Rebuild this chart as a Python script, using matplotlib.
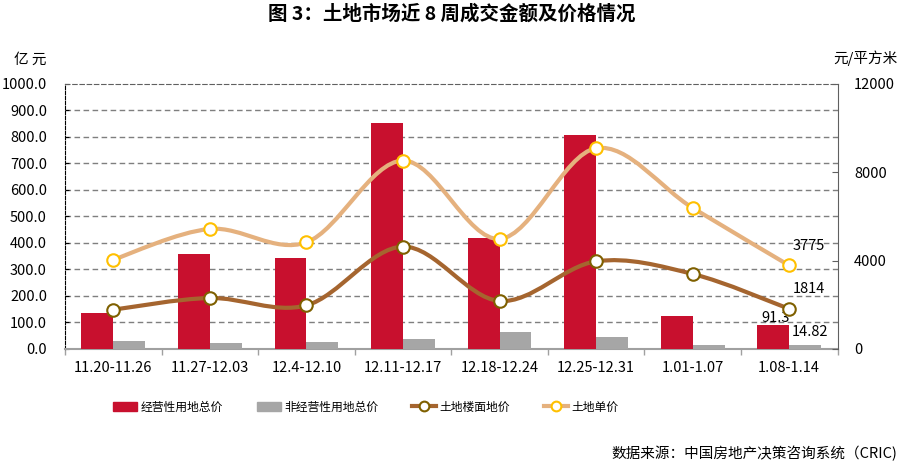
import numpy as np
import matplotlib
matplotlib.use("Agg")
import matplotlib.pyplot as plt
from matplotlib.path import Path
from matplotlib.patches import PathPatch, Patch
from matplotlib.lines import Line2D

plt.rcParams['font.family'] = ['Noto Sans CJK SC', 'DejaVu Sans']

categories = ["11.20-11.26", "11.27-12.03", "12.4-12.10", "12.11-12.17",
              "12.18-12.24", "12.25-12.31", "1.01-1.07", "1.08-1.14"]
op_total = [135, 357, 343, 852, 417, 807, 126, 91.3]
nonop_total = [29, 21, 25, 36, 65, 46, 16, 14.82]
floor_price = [1777, 2306, 1973, 4627, 2171, 3962, 3392, 1814]
unit_price = [4039, 5427, 4822, 8517, 4975, 9074, 6377, 3775]
left_ticks = [0, 100, 200, 300, 400, 500, 600, 700, 800, 900, 1000]
right_ticks = [0, 4000, 8000, 12000]

RED = '#C8102E'
GREY = '#A6A6A6'
BROWN = '#A5652F'
BROWN_EDGE = '#7F6000'
TAN = '#E5B17E'
YELLOW = '#FFC000'


def smooth_path(xs, ys):
    pts = np.column_stack([xs, ys]).astype(float)
    n = len(pts)
    verts = [pts[0]]
    codes = [Path.MOVETO]
    for i in range(n - 1):
        p0 = pts[i - 1] if i > 0 else pts[i]
        p1 = pts[i]
        p2 = pts[i + 1]
        p3 = pts[i + 2] if i + 2 < n else pts[i + 1]
        c1 = p1 + (p2 - p0) / 6.0
        c2 = p2 - (p3 - p1) / 6.0
        verts += [c1, c2, p2]
        codes += [Path.CURVE4] * 3
    return Path(verts, codes)


fig = plt.figure(figsize=(9.05, 4.66), dpi=100)
ax = fig.add_axes([65 / 905, 1 - 349 / 466, (837.5 - 65) / 905, (349 - 83.5) / 466])
ax2 = ax.twinx()

x = np.arange(len(categories))
bw = 0.33
ax.bar(x - bw / 2, op_total, bw, color=RED, zorder=3)
ax.bar(x + bw / 2, nonop_total, bw, color=GREY, zorder=3)

ax.set_xlim(-0.5, len(categories) - 0.5)
ax.set_ylim(0, 1000)
ax.set_yticks(left_ticks)
ax.set_yticklabels([f"{v:.1f}" for v in left_ticks], fontsize=10.5)
for v in left_ticks[1:-1]:
    ax.axhline(v, color='#7F7F7F', lw=1, ls=(0, (4, 2.5)), zorder=1)

ax.set_xticks(x)
ax.set_xticklabels(categories, fontsize=10.5)
ax.set_xticks(np.arange(-0.5, len(categories)), minor=True)
ax.tick_params(axis='x', which='major', length=0, pad=9)
ax.tick_params(axis='x', which='minor', length=4, direction='out', color='#A0A0A0', width=1)
ax.tick_params(axis='y', direction='in', length=3, color='black', pad=13)

ax.spines['left'].set_linestyle((0, (3, 1.5)))
ax.spines['left'].set_color('black')
ax.spines['top'].set_linestyle((0, (4, 2.5)))
ax.spines['top'].set_color('#606060')
ax.spines['right'].set_visible(False)
ax.spines['bottom'].set_color('#A0A0A0')
ax.spines['bottom'].set_linewidth(1.5)

# bar data labels
last = len(categories) - 1
ax.annotate(f"{op_total[-1]}", (x[last] - bw / 2, op_total[-1]), xytext=(1.7, 4.8),
            textcoords='offset points', ha='center', va='center', fontsize=10.5,
            zorder=6)
ax.annotate(f"{nonop_total[-1]}", (x[last] + bw / 2, nonop_total[-1]), xytext=(3.6, 9.6),
            textcoords='offset points', ha='center', va='center', fontsize=10.5,
            zorder=6)

# lines on right axis
ax2.set_ylim(0, 12000)
ax2.set_yticks(right_ticks)
ax2.set_yticklabels([str(v) for v in right_ticks], fontsize=10.5)
ax2.tick_params(axis='y', direction='in', length=4, color='#606060', pad=12)
for s in ['left', 'top', 'bottom']:
    ax2.spines[s].set_visible(False)
ax2.spines['right'].set_color('#606060')

ax2.add_patch(PathPatch(smooth_path(x, unit_price), fill=False, edgecolor=TAN,
                        lw=3, zorder=4, capstyle='round'))
ax2.plot(x, unit_price, ls='none', marker='o', ms=9, mfc='white', mec=YELLOW,
         mew=1.5, zorder=5)
ax2.add_patch(PathPatch(smooth_path(x, floor_price), fill=False, edgecolor=BROWN,
                        lw=3, zorder=4, capstyle='round'))
ax2.plot(x, floor_price, ls='none', marker='o', ms=9, mfc='white', mec=BROWN_EDGE,
         mew=1.5, zorder=5)

ax2.annotate(f"{unit_price[-1]}", (x[last], unit_price[-1]), xytext=(14, 14),
             textcoords='offset points', ha='center', va='center', fontsize=10.5)
ax2.annotate(f"{floor_price[-1]}", (x[last], floor_price[-1]), xytext=(14, 14),
             textcoords='offset points', ha='center', va='center', fontsize=10.5)

# texts
fig.text(452 / 905, 1 - 14 / 466, "图 3：土地市场近 8 周成交金额及价格情况",
         ha='center', va='center', fontsize=14, fontweight='bold')
fig.text(30 / 905, 1 - 60 / 466, "亿 元", ha='center', va='center', fontsize=10.5)
fig.text(898 / 905, 1 - 58 / 466, "元/平方米", ha='right', va='center', fontsize=10.5)
fig.text(897 / 905, 1 - 453 / 466, "数据来源：中国房地产决策咨询系统（CRIC)",
         ha='right', va='center', fontsize=10.5)

handles = [
    Patch(color=RED),
    Patch(color=GREY),
    Line2D([], [], color=BROWN, lw=3, marker='o', ms=7, mfc='white', mec=BROWN_EDGE, mew=1.5),
    Line2D([], [], color=TAN, lw=3, marker='o', ms=7, mfc='white', mec=YELLOW, mew=1.5),
]
labels = ["经营性用地总价", "非经营性用地总价", "土地楼面地价", "土地单价"]
fig.legend(handles, labels, loc='center', bbox_to_anchor=(366 / 905, 1 - 407 / 466),
           ncol=4, frameon=False, fontsize=8.5, handlelength=2.0, handletextpad=0.3,
           columnspacing=2.9, handleheight=0.7)

fig.savefig("out.png", dpi=100)
